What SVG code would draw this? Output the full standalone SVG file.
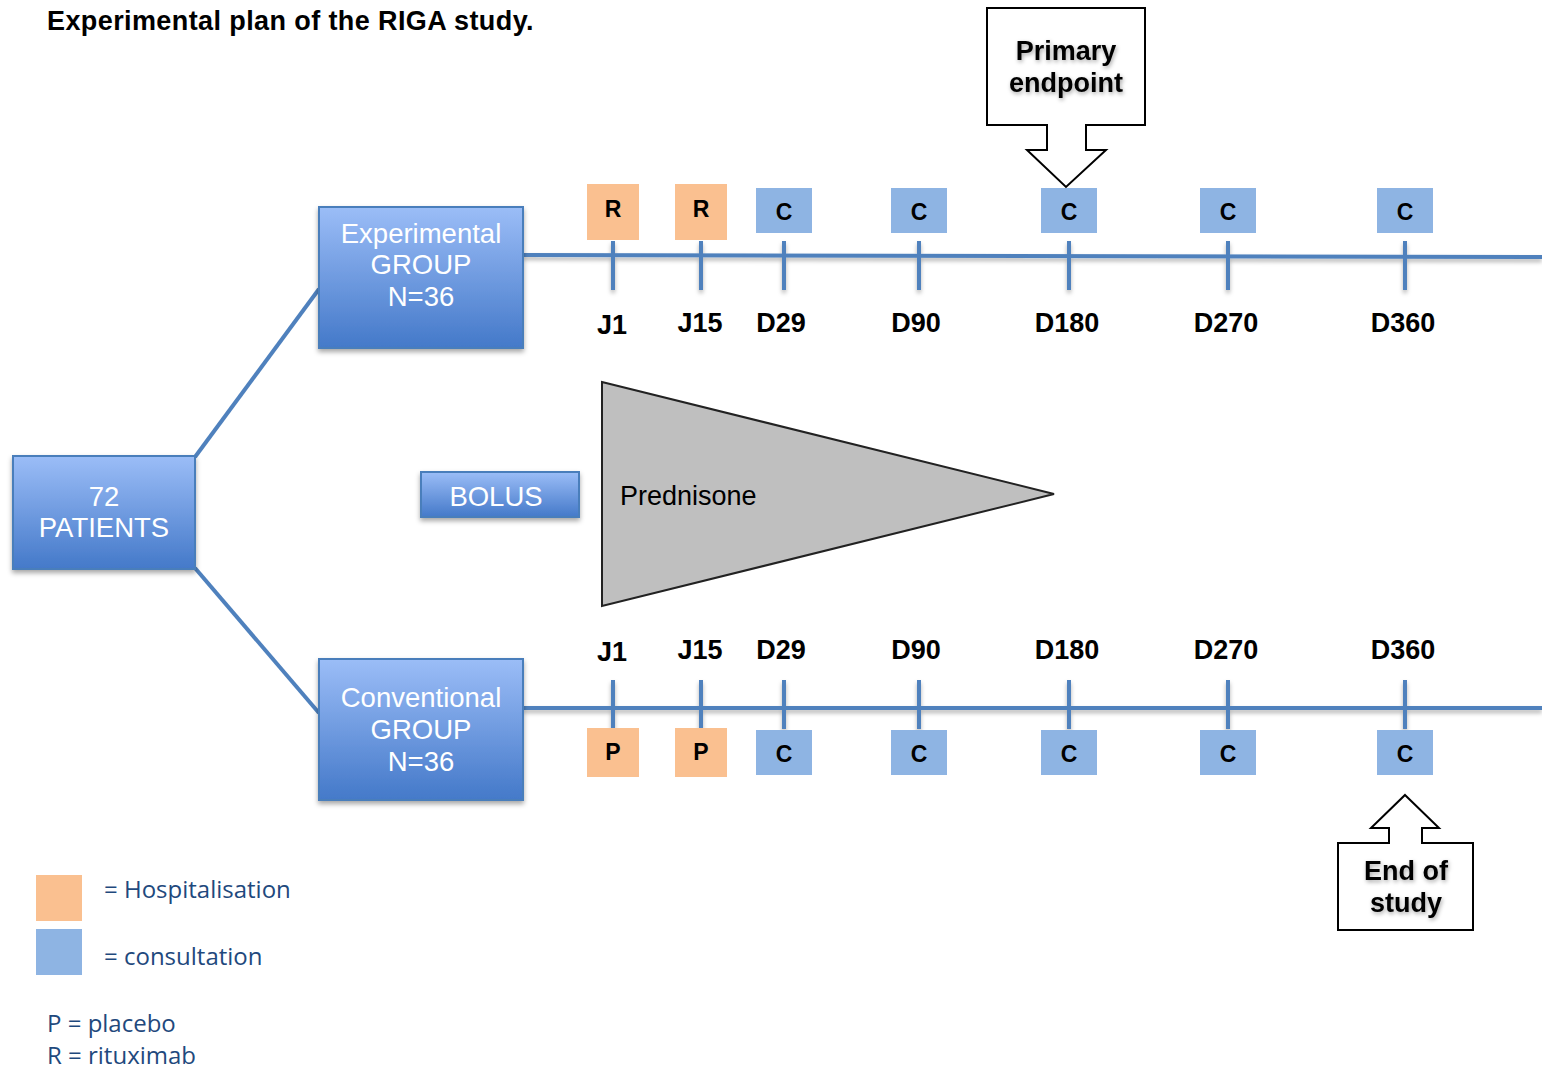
<svg xmlns="http://www.w3.org/2000/svg" width="1542" height="1069" viewBox="0 0 1542 1069">
<defs>
<linearGradient id="bg" x1="0" y1="0" x2="0" y2="1">
<stop offset="0" stop-color="#9bbdf7"/>
<stop offset="1" stop-color="#4479c9"/>
</linearGradient>
<filter id="sh" x="-10%" y="-10%" width="130%" height="140%">
<feDropShadow dx="0" dy="3" stdDeviation="2.5" flood-color="#000" flood-opacity="0.35"/>
</filter>
<filter id="lsh" filterUnits="userSpaceOnUse" x="0" y="0" width="1542" height="1069">
<feDropShadow dx="0" dy="3" stdDeviation="2" flood-color="#000" flood-opacity="0.3"/>
</filter>
<filter id="tsh" x="-10%" y="-20%" width="130%" height="150%">
<feDropShadow dx="1" dy="2" stdDeviation="2" flood-color="#000" flood-opacity="0.35"/>
</filter>
<style>
.box{fill:url(#bg);stroke:#4a7ebb;stroke-width:2;filter:url(#sh)}
.bt{font-family:"Liberation Sans",Arial,sans-serif;font-size:27.5px;fill:#fff;text-anchor:middle}
.line{stroke:#4f81bd;stroke-width:4;fill:none}
.tick{stroke:#4f81bd;stroke-width:4}
.hosp{fill:#fac090}
.cons{fill:#8eb4e3}
.mk{font-family:"Liberation Sans",Arial,sans-serif;font-size:23px;font-weight:bold;fill:#000;text-anchor:middle}
.lab{font-family:"Liberation Sans",Arial,sans-serif;font-size:27px;font-weight:bold;fill:#000;text-anchor:middle}
.call{fill:#fff;stroke:#000;stroke-width:2}
.ct{font-family:"Liberation Sans",Arial,sans-serif;font-size:27px;font-weight:bold;fill:#000;text-anchor:middle;filter:url(#tsh)}
.leg{font-family:"Open Sans","Noto Sans",sans-serif;font-size:24px;fill:#1f497d}
</style>
</defs>
<text x="47" y="30" font-family="Liberation Sans,Arial,sans-serif" font-size="27" font-weight="bold" letter-spacing="0.4" fill="#000">Experimental plan of the RIGA study.</text>

<g id="connectors">
<line class="line" x1="195" y1="457" x2="319" y2="289"/>
<line class="line" x1="195" y1="568" x2="319" y2="713"/>
<g filter="url(#lsh)">
<line class="line" x1="523" y1="255" x2="1542" y2="257"/>
<line class="line" x1="523" y1="708" x2="1542" y2="708"/>
<line class="tick" x1="613" y1="241" x2="613" y2="290"/>
<line class="tick" x1="701" y1="241" x2="701" y2="290"/>
<line class="tick" x1="784" y1="241" x2="784" y2="290"/>
<line class="tick" x1="919" y1="241" x2="919" y2="290"/>
<line class="tick" x1="1069" y1="241" x2="1069" y2="290"/>
<line class="tick" x1="1228" y1="241" x2="1228" y2="290"/>
<line class="tick" x1="1405" y1="241" x2="1405" y2="290"/>
<line class="tick" x1="613" y1="680" x2="613" y2="729"/>
<line class="tick" x1="701" y1="680" x2="701" y2="729"/>
<line class="tick" x1="784" y1="680" x2="784" y2="729"/>
<line class="tick" x1="919" y1="680" x2="919" y2="729"/>
<line class="tick" x1="1069" y1="680" x2="1069" y2="729"/>
<line class="tick" x1="1228" y1="680" x2="1228" y2="729"/>
<line class="tick" x1="1405" y1="680" x2="1405" y2="729"/>
</g>
</g>

<g id="patients">
<rect class="box" x="13" y="456" width="182" height="113"/>
<text class="bt" x="104" y="506">72</text>
<text class="bt" x="104" y="537">PATIENTS</text>
</g>
<g id="experimental">
<rect class="box" x="319" y="207" width="204" height="141"/>
<text class="bt" x="421" y="243">Experimental</text>
<text class="bt" x="421" y="274">GROUP</text>
<text class="bt" x="421" y="306">N=36</text>
</g>
<g id="conventional">
<rect class="box" x="319" y="659" width="204" height="141"/>
<text class="bt" x="421" y="707">Conventional</text>
<text class="bt" x="421" y="739">GROUP</text>
<text class="bt" x="421" y="771">N=36</text>
</g>
<g id="bolus">
<rect class="box" x="421" y="472" width="158" height="45"/>
<text class="bt" x="496" y="506">BOLUS</text>
</g>
<g id="prednisone">
<polygon points="602,382 1054,494 602,606" fill="#bfbfbf" stroke="#222" stroke-width="2"/>
<text x="620" y="505" font-family="Liberation Sans,Arial,sans-serif" font-size="27" fill="#000">Prednisone</text>
</g>

<g id="top-markers">
<rect class="hosp" x="587" y="184" width="52" height="56"/><text class="mk" x="613" y="217">R</text>
<rect class="hosp" x="675" y="184" width="52" height="56"/><text class="mk" x="701" y="217">R</text>
<rect class="cons" x="756" y="188" width="56" height="45"/><text class="mk" x="784" y="220">C</text>
<rect class="cons" x="891" y="188" width="56" height="45"/><text class="mk" x="919" y="220">C</text>
<rect class="cons" x="1041" y="188" width="56" height="45"/><text class="mk" x="1069" y="220">C</text>
<rect class="cons" x="1200" y="188" width="56" height="45"/><text class="mk" x="1228" y="220">C</text>
<rect class="cons" x="1377" y="188" width="56" height="45"/><text class="mk" x="1405" y="220">C</text>
</g>
<g id="top-labels">
<text class="lab" x="612" y="334">J1</text>
<text class="lab" x="700" y="332">J15</text>
<text class="lab" x="781" y="332">D29</text>
<text class="lab" x="916" y="332">D90</text>
<text class="lab" x="1067" y="332">D180</text>
<text class="lab" x="1226" y="332">D270</text>
<text class="lab" x="1403" y="332">D360</text>
</g>

<g id="bottom-markers">
<rect class="hosp" x="587" y="728" width="52" height="49"/><text class="mk" x="613" y="760">P</text>
<rect class="hosp" x="675" y="728" width="52" height="49"/><text class="mk" x="701" y="760">P</text>
<rect class="cons" x="756" y="730" width="56" height="45"/><text class="mk" x="784" y="762">C</text>
<rect class="cons" x="891" y="730" width="56" height="45"/><text class="mk" x="919" y="762">C</text>
<rect class="cons" x="1041" y="730" width="56" height="45"/><text class="mk" x="1069" y="762">C</text>
<rect class="cons" x="1200" y="730" width="56" height="45"/><text class="mk" x="1228" y="762">C</text>
<rect class="cons" x="1377" y="730" width="56" height="45"/><text class="mk" x="1405" y="762">C</text>
</g>
<g id="bottom-labels">
<text class="lab" x="612" y="661">J1</text>
<text class="lab" x="700" y="659">J15</text>
<text class="lab" x="781" y="659">D29</text>
<text class="lab" x="916" y="659">D90</text>
<text class="lab" x="1067" y="659">D180</text>
<text class="lab" x="1226" y="659">D270</text>
<text class="lab" x="1403" y="659">D360</text>
</g>

<g id="primary-endpoint">
<polygon class="call" points="987,8 1145,8 1145,125 1086,125 1086,150 1106,150 1066,187 1027,150 1047,150 1047,125 987,125"/>
<text class="ct" x="1066" y="60">Primary</text>
<text class="ct" x="1066" y="92">endpoint</text>
</g>
<g id="end-of-study">
<polygon class="call" points="1405,795 1439,828 1422,828 1422,843 1473,843 1473,930 1338,930 1338,843 1389,843 1389,828 1371,828"/>
<text class="ct" x="1406" y="880">End of</text>
<text class="ct" x="1406" y="912">study</text>
</g>

<g id="legend">
<rect class="hosp" x="36" y="875" width="46" height="46"/>
<rect class="cons" x="36" y="929" width="46" height="46"/>
<text class="leg" x="104" y="898">= Hospitalisation</text>
<text class="leg" x="104" y="965">= consultation</text>
<text class="leg" x="47" y="1032">P = placebo</text>
<text class="leg" x="47" y="1064">R = rituximab</text>
</g>
</svg>
